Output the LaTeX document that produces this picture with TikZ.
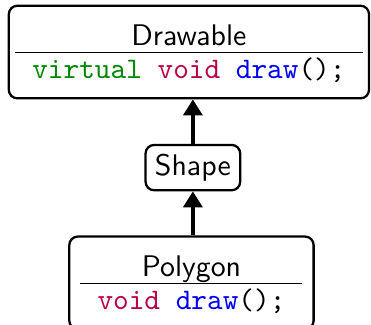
\documentclass[tikz,border=0pt]{standalone}
\usepackage{xcolor}
\usetikzlibrary{positioning,arrows.meta}
\definecolor{kwgreen}{RGB}{0,135,0}
\definecolor{kwpurple}{RGB}{185,0,70}
\definecolor{kwblue}{RGB}{0,0,255}
\tikzset{
	%Style of nodes
	cls/.style = {rectangle, rounded corners=3pt, draw=black, line width=0.8pt,
                           inner xsep=2pt, inner ysep=1pt, text centered},
	base/.style = {rectangle, rounded corners=3pt, draw=black, line width=0.8pt,
                           inner xsep=3.3pt, inner ysep=3.2pt, minimum width=33pt,
                           font=\fontsize{10.5}{12.6}\selectfont\sffamily,
                           text centered},
	inh/.style = {line width=1.2pt, -{Triangle[width=6.7pt,length=5.6pt]}}
}
\newcommand{\umlclass}[2]{%
	\fontsize{10.5}{12.6}\selectfont
	\begin{tabular}{c}
		\rule{0pt}{13pt}\sffamily #1\\[-1.4pt]\hline
		\rule[-6pt]{0pt}{9.5pt}\ttfamily #2
	\end{tabular}}

\begin{document}
\begin{tikzpicture}
		\useasboundingbox (0,0) rectangle (130.6pt,-114.4pt);
		\node (sha) [base] at (67.9pt,-59pt) {Shape};
		\node (drw) [cls, minimum width=126.8pt, above=15.6pt of sha, xshift=-1.4pt]
			{\umlclass{Drawable}{\textcolor{kwgreen}{virtual} \textcolor{kwpurple}{void} \textcolor{kwblue}{draw}();}};
		\node (pol) [cls, minimum width=86pt, below=15.5pt of sha, xshift=-0.5pt]
			{\umlclass{Polygon}{\textcolor{kwpurple}{void} \textcolor{kwblue}{draw}();}};

		\draw[inh] (sha.north) -- (sha.north |- drw.south);
		\draw[inh] (sha.south |- pol.north) -- (sha.south);
	\end{tikzpicture}
\end{document}
